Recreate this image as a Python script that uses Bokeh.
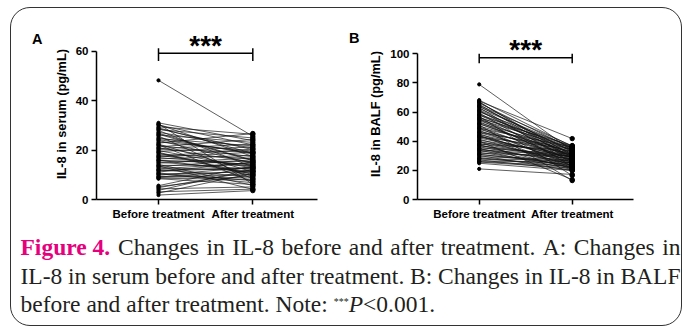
from bokeh.plotting import figure
from bokeh.layouts import column, row
from bokeh.models import Range1d, FixedTicker, LinearAxis
from bokeh.embed import file_html
from bokeh.resources import INLINE
from bokeh.core.properties import value

# ---------------- data ----------------
categories = ["Before treatment", "After treatment"]

serum_before = [48.2, 31.0, 30.6, 30.1, 29.4, 29.0, 28.3, 27.9, 27.2, 26.8,
                26.1, 25.7, 25.0, 24.6, 23.9, 23.3, 22.8, 22.4, 21.9, 21.3,
                20.9, 20.2, 19.8, 19.4, 18.9, 18.3, 17.8, 17.5, 16.9, 16.4,
                16.0, 15.6, 15.1, 14.7, 14.2, 13.8, 13.3, 12.9, 12.4, 12.0,
                11.6, 11.1, 10.7, 10.2, 9.8, 9.3, 8.9, 8.4, 5.6, 5.2,
                4.8, 4.3, 3.7, 3.1, 2.6, 1.8, 30.3, 28.6, 26.4, 24.2,
                22.1, 20.6, 19.1, 17.2, 15.8, 13.6, 11.9, 10.4, 9.1, 8.6]
serum_after = [25.6, 23.8, 6.2, 22.1, 26.4, 18.7, 24.9, 13.2, 20.8, 15.9,
               23.1, 8.3, 18.4, 21.7, 14.6, 19.6, 26.7, 11.2, 17.3, 24.3,
               15.1, 19.2, 12.7, 21.3, 9.6, 16.6, 13.4, 20.4, 14.1, 17.9,
               10.8, 15.4, 12.2, 16.8, 5.7, 13.9, 16.1, 11.6, 14.8, 9.2,
               12.6, 15.2, 7.6, 11.3, 13.1, 8.7, 10.2, 6.1, 13.6, 9.8,
               11.4, 5.1, 12.3, 4.2, 10.6, 3.6, 17.4, 20.2, 15.7, 18.9,
               7.2, 22.4, 10.1, 19.1, 14.3, 4.1, 12.8, 6.8, 11.7, 8.1]

balf_before = [79.0, 68.2, 67.5, 66.8, 66.1, 65.3, 64.6, 63.8, 63.1, 62.4,
               61.6, 60.9, 60.1, 59.4, 58.6, 57.9, 57.1, 56.4, 55.6, 54.9,
               54.1, 53.4, 52.6, 51.9, 51.2, 50.4, 49.7, 48.9, 48.2, 47.4,
               46.7, 45.9, 45.2, 44.4, 43.7, 42.9, 42.2, 41.4, 40.7, 39.9,
               39.2, 38.4, 37.7, 36.9, 36.2, 35.4, 34.7, 33.9, 33.2, 32.4,
               31.7, 30.9, 30.2, 29.4, 28.7, 27.9, 27.2, 26.4, 25.7, 24.9,
               21.0, 67.0, 64.0, 61.0, 58.0, 55.0, 52.0, 49.0, 46.0, 43.0,
               40.0, 37.0, 34.0, 31.0, 28.0, 56.0, 44.0, 38.0, 35.0, 26.0]
balf_after = [33.5, 36.4, 41.8, 30.2, 35.1, 27.6, 36.9, 33.2, 24.8, 35.8,
              31.4, 29.3, 36.2, 22.7, 34.6, 30.9, 16.4, 33.9, 28.4, 35.3,
              31.8, 26.3, 34.1, 29.7, 13.0, 32.6, 27.1, 36.0, 30.4, 24.2,
              33.0, 28.8, 21.9, 31.2, 26.7, 34.4, 29.0, 23.5, 30.7, 25.9,
              32.2, 27.8, 21.2, 29.5, 24.6, 31.0, 26.0, 20.6, 28.1, 23.1,
              29.8, 25.2, 19.8, 27.3, 22.3, 24.0, 20.3, 25.5, 21.6, 19.9,
              17.2, 28.3, 32.7, 26.9, 35.5, 24.4, 30.6, 22.8, 34.8, 28.6,
              13.6, 27.5, 30.1, 23.8, 26.6, 37.0, 20.9, 33.6, 22.0, 22.9]

serum_ticks = [0, 20, 40, 60]
balf_ticks = [0, 20, 40, 60, 80, 100]
significance = "***"

FONT = "Liberation Sans"
INK = "#000000"


def panel(before, after, ticks, ylabel, letter, width, mb_left, mb_right,
          x_start, x_end, y_end, bracket_y, bracket_lo, bracket_hi, star_y,
          letter_y, letter_standoff):
    p = figure(width=width, height=219, title=None,
               x_range=Range1d(x_start, x_end), y_range=Range1d(0, y_end),
               output_backend="svg", toolbar_location=None,
               min_border_left=mb_left, min_border_right=mb_right,
               min_border_top=20, min_border_bottom=28,
               border_fill_color=None, background_fill_color=None,
               outline_line_color=None)
    xb = categories.index("Before treatment")
    xa = categories.index("After treatment")
    xs = [[xb, xa] for _ in before]
    ys = [[b, a] for b, a in zip(before, after)]
    p.multi_line(xs, ys, line_color="#111111", line_width=0.8, line_alpha=0.85)
    p.scatter([xb] * len(before), before, size=3.2, color=INK)
    p.scatter([xa] * len(after), after, size=4.4, color=INK)

    # significance bracket
    p.segment(x0=[xb, xb, xa], y0=[bracket_y, bracket_lo, bracket_lo],
              x1=[xa, xb, xa], y1=[bracket_y, bracket_hi, bracket_hi],
              line_color=INK, line_width=1.5)
    p.text(x=[(xb + xa) / 2], y=[star_y], text=[significance],
           text_align="center", text_baseline="alphabetic",
           text_font=value(FONT), text_font_style="bold",
           text_font_size="28px", text_color=INK)

    p.xgrid.visible = False
    p.ygrid.visible = False
    p.xaxis.ticker = FixedTicker(ticks=[xb, xa])
    p.xaxis.major_label_overrides = {xb: categories[0], xa: categories[1]}
    p.yaxis.ticker = FixedTicker(ticks=ticks)
    p.yaxis.bounds = (ticks[0], ticks[-1])
    p.yaxis.axis_label = ylabel
    for ax in (p.xaxis[0], p.yaxis[0]):
        ax.axis_line_width = 1.5
        ax.axis_line_color = INK
        ax.major_tick_line_width = 1.5
        ax.major_tick_line_color = INK
        ax.major_tick_out = 5
        ax.major_tick_in = 0
        ax.minor_tick_line_color = None
        ax.major_label_text_font = FONT
        ax.major_label_text_font_style = "bold"
        ax.major_label_text_font_size = "11.5px"
        ax.major_label_text_color = INK
        ax.major_label_standoff = 3
        ax.axis_label_text_font = FONT
        ax.axis_label_text_font_style = "bold"
        ax.axis_label_text_font_size = "12.8px"
        ax.axis_label_text_color = INK
        ax.axis_label_standoff = 4

    # panel letter, carried by an outer left axis without line or ticks
    lax = LinearAxis(ticker=FixedTicker(ticks=[letter_y]),
                     major_label_overrides={letter_y: letter},
                     axis_line_color=None, major_tick_line_color=None,
                     minor_tick_line_color=None,
                     major_label_standoff=letter_standoff,
                     major_label_text_font=FONT,
                     major_label_text_font_style="bold",
                     major_label_text_font_size="14.5px",
                     major_label_text_color=INK)
    p.add_layout(lax, "left")
    return p


pA = panel(serum_before, serum_after, serum_ticks, "IL-8 in serum (pg/mL)", "A",
           330, 85, 24, -0.6575, 1.686, 69.18, 59.19, 56.0, 61.2, 62.2,
           65, 2)
pB = panel(balf_before, balf_after, balf_ticks, "IL-8 in BALF (pg/mL)", "B",
           340, 76, 48, -0.6634, 1.659, 117.36, 97.25, 93.55, 100.0, 103.2,
           111, 0)

# ---------------- caption ----------------
SERIF = "Liberation Serif"
CAP = "#231f20"
PINK = "#e6007e"
CAP_W, CAP_H = 670, 98
pC = figure(width=CAP_W, height=CAP_H, title=None,
            x_range=Range1d(0, CAP_W), y_range=Range1d(CAP_H, 0),
            x_axis_type=None, y_axis_type=None,
            output_backend="svg", toolbar_location=None,
            min_border=0, min_border_left=0, min_border_right=0,
            min_border_top=0, min_border_bottom=0,
            border_fill_color=None, background_fill_color=None,
            outline_line_color=None)
pC.xgrid.visible = False
pC.ygrid.visible = False

REG = {' ': 250, 'A': 722, 'B': 667, 'C': 667, 'F': 556, 'I': 333, 'L': 611,
       'N': 722, 'P': 611, 'a': 444, 'b': 500, 'c': 444, 'd': 500, 'e': 444,
       'f': 333, 'g': 500, 'h': 500, 'i': 278, 'l': 278, 'm': 778, 'n': 500,
       'o': 500, 'p': 500, 'r': 333, 's': 389, 't': 278, 'u': 500, 'v': 500,
       '.': 250, ':': 278, '-': 333, '0': 500, '1': 500, '4': 500, '8': 500,
       '<': 564, '*': 500}
BOLD = {'F': 611, 'i': 278, 'g': 500, 'u': 556, 'r': 444, 'e': 444, ' ': 250,
        '4': 500, '.': 250}
FS = 23.5


def tw(s, table=REG, size=FS):
    return sum(table[c] for c in s) / 1000 * size


def cap(x, y, t, size=FS, style="normal", color=CAP):
    pC.text(x=[x], y=[y], text=[t], text_align="left",
            text_baseline="alphabetic", text_font=value(SERIF),
            text_font_style=style, text_font_size=f"{size}px", text_color=color)


def justified(words, y, x0=9, x1=669):
    # words: list of (text, table, style, color)
    natural = sum(tw(w, tb) for w, tb, _, _ in words)
    gap = (x1 - x0 - natural) / (len(words) - 1)
    x = x0
    for w, tb, st, col in words:
        cap(x, y, w, style=st, color=col)
        x += tw(w, tb) + gap


line1 = [("Figure 4.", BOLD, "bold", PINK)] + [
    (w, REG, "normal", CAP) for w in
    "Changes in IL-8 before and after treatment. A: Changes in".split()]
line2 = [(w, REG, "normal", CAP) for w in
         "IL-8 in serum before and after treatment. B: Changes in IL-8 in BALF".split()]
justified(line1, 19.7)
justified(line2, 48.0)

t3 = "before and after treatment. Note: "
cap(9, 76.3, t3)
xs3 = 9 + tw(t3)
cap(xs3, 73.5, "***", size=10)
xs3 += tw("***", size=10)
cap(xs3, 76.3, "P", style="italic")
xs3 += tw("P")
cap(xs3, 76.3, "<0.001.")

layout = column(row(pA, pB), pC,
                styles={"border": "1px solid #333333",
                        "border-radius": "20px",
                        "margin-left": "10px",
                        "margin-top": "7px"})

open("out.html", "w").write(file_html(layout, INLINE))
